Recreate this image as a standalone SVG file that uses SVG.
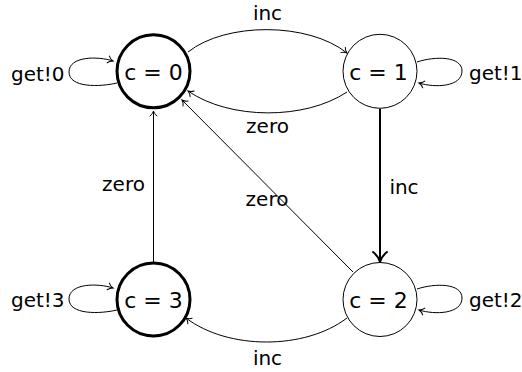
<svg xmlns="http://www.w3.org/2000/svg" width="522" height="372" viewBox="0 0 522 372">
<defs>
<style>
.node{fill:#fff;stroke:#000;stroke-width:1}
.init{stroke-width:3}
.lbl{font-family:"DejaVu Sans",sans-serif;font-size:20px;fill:#000}
.nl{font-family:"DejaVu Sans",sans-serif;font-size:22px;fill:#000}
.edge{fill:none;stroke:#000;stroke-width:1;marker-end:url(#arr)}
.thick{stroke-width:2}
</style>
<marker id="arr" markerUnits="strokeWidth" markerWidth="8" markerHeight="8" refX="0" refY="0" orient="auto" overflow="visible" viewBox="-6 -4 8 8">
<path d="M -5,-3.5 C -3.5,-1.5 -1,-0.3 0,0 C -1,0.3 -3.5,1.5 -5,3.5" fill="none" stroke="#000" stroke-width="1" stroke-linecap="round"/>
</marker>
</defs>
<rect width="522" height="372" fill="#fff"/>
<g id="connectors">
<path class="edge" d="M 188,52 C 226,22 308,22 347,53"/>
<path class="edge" d="M 347,92 C 305,120 230,120 188,91"/>
<path class="edge thick" d="M 380,109 L 380,262"/>
<path class="edge" d="M 353,272 L 182,100"/>
<path class="edge" d="M 153.5,262 L 153.5,111"/>
<path class="edge" d="M 347,318 C 305,350 228,350 186,318"/>
<path class="edge" d="M 117,83 C 100,87 69,88 69,72 C 69,56 98,56 113,61"/>
<path class="edge" d="M 417,62 C 435,56 462,56 462,71 C 462,87 435,88 419,83"/>
<path class="edge" d="M 117,310 C 100,314 69,315 69,299 C 69,283 98,283 113,288"/>
<path class="edge" d="M 417,289 C 435,283 462,283 462,298 C 462,314 435,315 419,310"/>
<text class="lbl" x="267.5" y="20" text-anchor="middle">inc</text>
<text class="lbl" x="267.5" y="133" text-anchor="middle">zero</text>
<text class="lbl" x="123.5" y="191" text-anchor="middle">zero</text>
<text class="lbl" x="267" y="206" text-anchor="middle">zero</text>
<text class="lbl" x="404" y="194" text-anchor="middle">inc</text>
<text class="lbl" x="267.5" y="365" text-anchor="middle">inc</text>
<text class="lbl" x="11" y="81">get!0</text>
<text class="lbl" x="469" y="80">get!1</text>
<text class="lbl" x="11" y="307">get!3</text>
<text class="lbl" x="469" y="307">get!2</text>
</g>
<g id="c0">
<circle class="node init" cx="153.5" cy="71.3" r="36.5"/>
<text class="nl" x="153.5" y="80" text-anchor="middle">c = 0</text>
</g>
<g id="c1">
<circle class="node" cx="380" cy="71.3" r="37"/>
<text class="nl" x="378.5" y="80" text-anchor="middle">c = 1</text>
</g>
<g id="c2">
<circle class="node" cx="380" cy="299.5" r="37"/>
<text class="nl" x="378.5" y="308" text-anchor="middle">c = 2</text>
</g>
<g id="c3">
<circle class="node init" cx="153.5" cy="299.5" r="36.5"/>
<text class="nl" x="153.5" y="308" text-anchor="middle">c = 3</text>
</g>
</svg>
